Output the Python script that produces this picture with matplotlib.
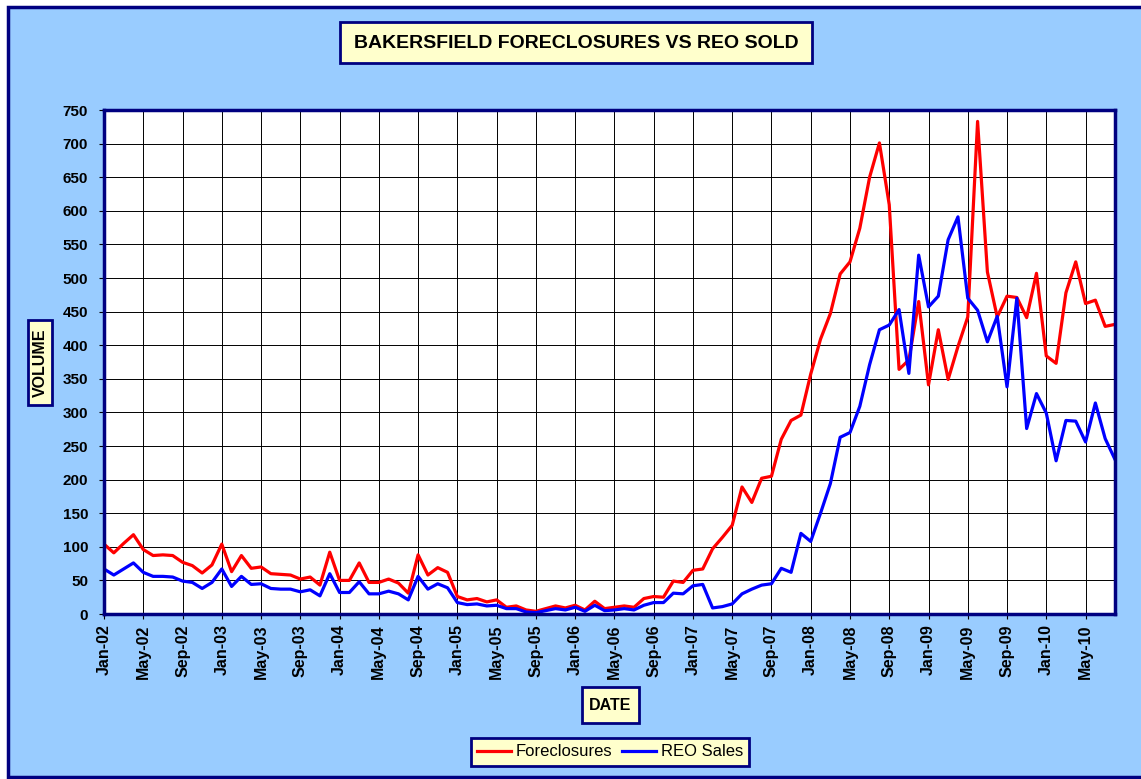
import numpy as np
import pandas as pd
import matplotlib
matplotlib.use("Agg")
import matplotlib.pyplot as plt
from matplotlib.patches import Rectangle

plt.rcParams["font.family"] = ["Liberation Sans", "DejaVu Sans"]

# monthly data, Jan-02 .. Aug-10
months = pd.date_range("2002-01-01", periods=104, freq="MS").strftime("%b-%y").tolist()

foreclosures = [
    104, 91, 105, 118, 96, 87, 88, 87, 77, 72, 61, 73,      # 2002
    104, 63, 87, 68, 70, 60, 59, 58, 52, 55, 43, 92,        # 2003
    50, 50, 76, 47, 47, 52, 46, 31, 88, 58, 69, 62,         # 2004
    26, 21, 23, 18, 21, 10, 12, 6, 4, 8, 12, 9,             # 2005
    13, 6, 19, 8, 10, 12, 10, 23, 26, 25, 49, 47,           # 2006
    65, 67, 97, 114, 132, 189, 166, 202, 205, 260, 288, 296,  # 2007
    357, 409, 447, 506, 524, 574, 650, 701, 609, 364, 378, 465,  # 2008
    341, 423, 349, 398, 442, 733, 509, 442, 473, 471, 441, 507,  # 2009
    384, 373, 478, 524, 462, 467, 428, 431,                 # 2010
]

reo_sales = [
    67, 58, 67, 76, 62, 56, 56, 55, 49, 47, 38, 47,
    67, 41, 56, 44, 45, 38, 37, 37, 33, 36, 27, 60,
    32, 32, 48, 30, 30, 34, 30, 21, 56, 37, 45, 39,
    17, 14, 15, 12, 13, 8, 8, 3, 2, 5, 8, 6,
    10, 4, 13, 5, 6, 8, 6, 13, 17, 17, 31, 30,
    42, 44, 9, 11, 15, 30, 37, 43, 45, 68, 62, 120,
    108, 150, 194, 263, 270, 309, 371, 423, 430, 453, 358, 534,
    457, 473, 557, 591, 470, 452, 405, 443, 338, 470, 276, 328,
    299, 228, 288, 287, 256, 314, 261, 230,
]

W, H = 1141, 779
NAVY = "#000080"
CREAM = "#FFFFCC"

fig = plt.figure(figsize=(W / 100, H / 100), dpi=100, facecolor="white")


def px_rect(x0, y0, x1, y1, **kw):
    # pixel box measured from top-left -> figure fraction rectangle
    return Rectangle((x0 / W, 1 - y1 / H), (x1 - x0) / W, (y1 - y0) / H,
                     transform=fig.transFigure, **kw)


# chart background + outer border (behind the axes)
fig.patches.append(px_rect(8, 7, 1160, 777, facecolor="#99CCFF", edgecolor=NAVY, linewidth=2.5, zorder=-10))

ax = fig.add_axes([104 / W, 1 - 614 / H, (1115 - 104) / W, (614 - 110) / H])
ax.set_facecolor("white")

x = np.arange(len(months))
ax.plot(x, foreclosures, color="#FF0000", lw=2.3, label="Foreclosures", zorder=3)
ax.plot(x, reo_sales, color="#0000FF", lw=2.3, label="REO Sales", zorder=3)

ax.set_xlim(0, len(months) - 1)
ax.set_ylim(0, 750)
ax.set_yticks(np.arange(0, 751, 50))
ax.set_xticks(x[::4])
ax.set_xticklabels(months[::4], rotation=90, fontsize=11.5, fontweight="bold")
for lbl in ax.get_yticklabels():
    lbl.set_fontsize(11)
    lbl.set_fontweight("bold")

ax.grid(True, color="black", lw=0.7)
ax.set_axisbelow(True)
ax.tick_params(direction="out", length=3.5, width=0.8, color="black")
ax.tick_params(axis="y", pad=8)
ax.tick_params(axis="x", pad=4)
for sp in ax.spines.values():
    sp.set_color(NAVY)
    sp.set_linewidth(2.5)
    sp.set_zorder(4)

# title box
fig.patches.append(px_rect(340, 22, 812, 63, facecolor=CREAM, edgecolor=NAVY, linewidth=2, zorder=1))
fig.text(576 / W, 1 - 43 / H, "BAKERSFIELD FORECLOSURES VS REO SOLD",
         ha="center", va="center", fontsize=14, fontweight="bold")

# y label box
fig.patches.append(px_rect(28, 320, 52, 405, facecolor=CREAM, edgecolor=NAVY, linewidth=2, zorder=1))
fig.text(40 / W, 1 - 362.5 / H, "VOLUME", rotation=90,
         ha="center", va="center", fontsize=11.5, fontweight="bold")

# x label box
fig.patches.append(px_rect(582, 687, 639, 723, facecolor=CREAM, edgecolor=NAVY, linewidth=2, zorder=1))
fig.text(610.5 / W, 1 - 705 / H, "DATE",
         ha="center", va="center", fontsize=11.5, fontweight="bold")

leg = fig.legend(loc="center", bbox_to_anchor=(610 / W, 1 - 752 / H), ncol=2,
                 fontsize=12, frameon=True, fancybox=False, framealpha=1,
                 handlelength=2.0, handletextpad=0.3, columnspacing=0.6,
                 borderpad=0.4, borderaxespad=0)
leg.get_frame().set_facecolor(CREAM)
leg.get_frame().set_edgecolor(NAVY)
leg.get_frame().set_linewidth(2)

fig.savefig("out.png", dpi=100, facecolor=fig.get_facecolor())
